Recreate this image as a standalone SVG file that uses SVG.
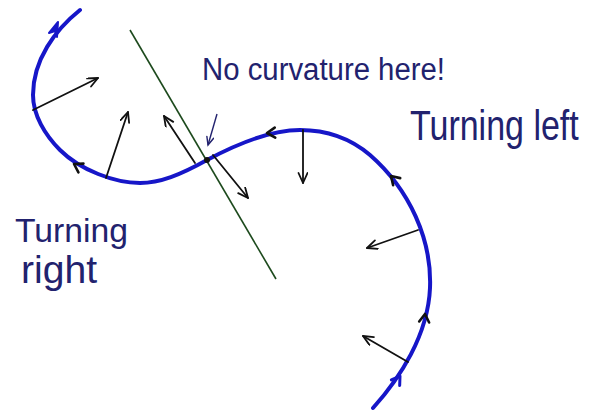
<svg xmlns="http://www.w3.org/2000/svg" width="589" height="412" viewBox="0 0 589 412">
<style>
.curve{fill:none;stroke:#1616c8;stroke-width:4;stroke-linecap:round;stroke-linejoin:round}
.normal{fill:none;stroke:#111;stroke-width:1.8;stroke-linecap:round;marker-end:url(#ah)}
.chev{fill:none;stroke:#111;stroke-width:2.6;stroke-linecap:round;stroke-linejoin:round}
.chevb{fill:none;stroke:#1616c8;stroke-width:3;stroke-linecap:round;stroke-linejoin:round}
.hand{font-family:"Liberation Sans","DejaVu Sans",sans-serif;fill:#22226e}
.tangent{stroke:#1d4a1d;stroke-width:1.6;fill:none}
</style>
<defs>
<marker id="ah" markerUnits="userSpaceOnUse" markerWidth="14" markerHeight="12" refX="11" refY="5" orient="auto">
<path d="M1,0.5 L11,5 L1,9.5" fill="none" stroke="#111" stroke-width="1.8" stroke-linecap="round" stroke-linejoin="round"/>
</marker>
<marker id="ah2" markerUnits="userSpaceOnUse" markerWidth="12" markerHeight="10" refX="9" refY="4" orient="auto">
<path d="M1,0.5 L9,4 L1,7.5" fill="none" stroke="#22226e" stroke-width="1.4" stroke-linecap="round"/>
</marker>
<path id="v" d="M-8,-5 L0,0 L-8,5"/>
</defs>
<g id="tangent-line"><line class="tangent" x1="130" y1="30" x2="276" y2="279"/></g>
<g id="curve">
<path class="curve" d="M373,408 C400,378 428,335 430,288 C432,240 410,190 370,155 C350,138 325,130 300,130 C270,130 235,145 207,160 C180,175 160,183 140,183 C115,183 80,170 60,150 C45,135 33,115 33,95 C33,60 55,30 80,10"/>
</g>
<g id="connectors">
<line class="normal" x1="33" y1="110" x2="98" y2="78"/>
<line class="normal" x1="106" y1="178" x2="128" y2="112"/>
<line class="normal" x1="195" y1="163" x2="164" y2="116"/>
<line class="normal" x1="213" y1="155" x2="248" y2="198"/>
<line class="normal" x1="303" y1="130" x2="303" y2="183"/>
<line class="normal" x1="418" y1="230" x2="367" y2="248"/>
<line class="normal" x1="408" y1="362" x2="363" y2="336"/>
<line x1="217" y1="114" x2="208" y2="145" stroke="#22226e" stroke-width="1.4" marker-end="url(#ah2)"/>
</g>
<g id="chevrons">
<use href="#v" class="chevb" transform="translate(400,376) rotate(-56)"/>
<use href="#v" class="chev" transform="translate(425,314) rotate(-84)"/>
<use href="#v" class="chev" transform="translate(391,176) rotate(-135)"/>
<use href="#v" class="chev" transform="translate(267,133) rotate(177)"/>
<use href="#v" class="chev" transform="translate(74,164) rotate(-150)"/>
<path d="M58,22 L49,33 L55,31 L57,37 Z" fill="#1616c8" stroke="#1616c8" stroke-width="2" stroke-linejoin="round"/>
</g>
<g id="inflection"><circle cx="207" cy="160" r="3" fill="#111"/></g>
<g id="label-no-curvature"><text class="hand" x="202" y="80" font-size="31" textLength="243" lengthAdjust="spacingAndGlyphs">No curvature here!</text></g>
<g id="label-left"><text class="hand" transform="translate(410,140) scale(1,1.25)" x="0" y="0" font-size="34">Turning left</text></g>
<g id="label-right">
<text class="hand" x="15" y="242" font-size="34" textLength="113" lengthAdjust="spacingAndGlyphs">Turning</text>
<text class="hand" x="21" y="283" font-size="38" textLength="76" lengthAdjust="spacingAndGlyphs">right</text>
</g>
</svg>
